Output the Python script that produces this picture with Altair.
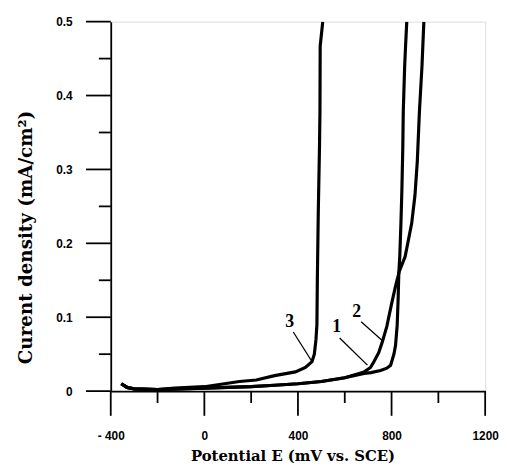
import altair as alt
import pandas as pd

# ---- data (E in mV vs SCE, current density in mA/cm2)
curve1_E = [-355, -330, -300, -200, -100, 0, 100, 200, 300, 400, 500, 600, 683, 712, 753, 780, 796, 810, 817, 824, 828, 831, 835, 840, 844, 848, 850, 856, 860, 865]
curve1_I = [0.010, 0.005, 0.003, 0.002, 0.003, 0.004, 0.005, 0.006, 0.008, 0.010, 0.013, 0.018, 0.024, 0.025, 0.028, 0.031, 0.035, 0.050, 0.062, 0.089, 0.124, 0.160, 0.182, 0.227, 0.271, 0.330, 0.378, 0.440, 0.468, 0.500]

curve2_E = [-355, -330, -300, -200, -100, 0, 100, 200, 300, 400, 500, 600, 683, 710, 725, 745, 760, 780, 800, 817, 833, 858, 886, 900, 910, 919, 930, 938]
curve2_I = [0.010, 0.005, 0.003, 0.002, 0.003, 0.004, 0.005, 0.006, 0.008, 0.010, 0.013, 0.018, 0.026, 0.032, 0.040, 0.052, 0.066, 0.088, 0.118, 0.142, 0.162, 0.182, 0.227, 0.265, 0.311, 0.378, 0.440, 0.500]

curve3_E = [-355, -330, -300, -200, -127, 0, 150, 222, 300, 389, 432, 460, 470, 477, 481, 483, 487, 492, 494, 495, 506]
curve3_I = [0.010, 0.005, 0.003, 0.002, 0.004, 0.006, 0.013, 0.015, 0.021, 0.026, 0.032, 0.040, 0.050, 0.070, 0.090, 0.155, 0.245, 0.330, 0.378, 0.467, 0.500]

label_text = ["1", "2", "3"]
label_E = [565, 651, 365]
label_I = [0.0865, 0.1066, 0.093]

pointer_E1 = [578, 670, 380]
pointer_I1 = [0.0718, 0.094, 0.080]
pointer_E2 = [697, 760, 457]
pointer_I2 = [0.0352, 0.0686, 0.0414]

x_major = [-400, 0, 400, 800, 1200]
x_minor = [-200, 200, 600, 1000]
y_major = [0, 0.1, 0.2, 0.3, 0.4, 0.5]
y_minor = [0.05, 0.15, 0.25, 0.35, 0.45]

rows = []
for name, es, cs in [("1", curve1_E, curve1_I), ("2", curve2_E, curve2_I), ("3", curve3_E, curve3_I)]:
    for k, (e, c) in enumerate(zip(es, cs)):
        rows.append({"curve": name, "E": e, "I": c, "order": k})
df = pd.DataFrame(rows)

labels_df = pd.DataFrame({"text": label_text, "E": label_E, "I": label_I})
pointers_df = pd.DataFrame({"E1": pointer_E1, "I1": pointer_I1, "E2": pointer_E2, "I2": pointer_I2})
xminor_df = pd.DataFrame({"v": x_minor})
yminor_df = pd.DataFrame({"v": y_minor})
xmajor_df = pd.DataFrame({"v": x_major})
ymajor_df = pd.DataFrame({"v": y_major})

W, H = 379, 374
MAJOR, MINOR = 25, 12
LW = 1.8

xscale = alt.Scale(domain=[-400, 1200], nice=False, zero=False)
yscale = alt.Scale(domain=[0, 0.5], nice=False)

xaxis = alt.Axis(
    values=x_major,
    title="Potential E (mV vs. SCE)",
    labelExpr="datum.value < 0 ? '- ' + abs(datum.value) : '' + datum.value",
    ticks=False,
    domainColor="black", domainWidth=LW,
    labelFont="Liberation Sans", labelFontWeight="bold", labelFontSize=12, labelColor="black",
    labelPadding=15 + MAJOR, labelFlush=False, labelOverlap=False,
    titleFont="DejaVu Serif", titleFontWeight="bold", titleFontSize=15, titleColor="black",
    titleBaseline="top", titleY=58, titleX=184, grid=False,
)
yaxis = alt.Axis(
    values=y_major,
    title="Curent density (mA/cm²)",
    labelExpr="toString(round(datum.value*10)/10)",
    ticks=False,
    domainColor="black", domainWidth=LW,
    labelFont="Liberation Sans", labelFontWeight="bold", labelFontSize=12, labelColor="black",
    labelPadding=14 + MAJOR, labelFlush=False, labelOverlap=False,
    titleFont="DejaVu Serif", titleFontWeight="bold", titleFontSize=18.5, titleColor="black",
    titleBaseline="middle", titleX=-86, titleY=218, grid=False,
)

lines = alt.Chart(df).mark_line(color="black", strokeWidth=3.2, clip=True).encode(
    x=alt.X("E:Q", scale=xscale, axis=xaxis),
    y=alt.Y("I:Q", scale=yscale, axis=yaxis),
    detail="curve:N",
    order="order:Q",
)

pointers = alt.Chart(pointers_df).mark_rule(color="black", strokeWidth=1.3).encode(
    x=alt.X("E1:Q", scale=xscale),
    y=alt.Y("I1:Q", scale=yscale),
    x2="E2:Q",
    y2="I2:Q",
)

labels = alt.Chart(labels_df).mark_text(
    font="Liberation Serif", fontWeight="bold", fontSize=18, color="black", baseline="middle", align="center"
).encode(
    x=alt.X("E:Q", scale=xscale),
    y=alt.Y("I:Q", scale=yscale),
    text="text:N",
)


def xticks(data, size):
    return alt.Chart(data).mark_rule(color="black", strokeWidth=LW, clip=False).encode(
        x=alt.X("v:Q", scale=xscale),
        y=alt.value(H),
        y2=alt.value(H + size),
    )


def yticks(data, size):
    return alt.Chart(data).mark_rule(color="black", strokeWidth=LW, clip=False).encode(
        y=alt.Y("v:Q", scale=yscale),
        x=alt.value(-size),
        x2=alt.value(0),
    )


chart = alt.layer(
    lines, pointers, labels,
    xticks(xminor_df, MINOR), yticks(yminor_df, MINOR),
    xticks(xmajor_df, MAJOR), yticks(ymajor_df, MAJOR),
).properties(
    width=W,
    height=H,
    padding={"left": 104, "top": 11, "right": 14, "bottom": 74},
    autosize=alt.AutoSizeParams(type="none"),
).configure_view(stroke="black", strokeWidth=LW).configure(background="white")

chart.save("out.html", embed_options={"renderer": "svg", "actions": False})
